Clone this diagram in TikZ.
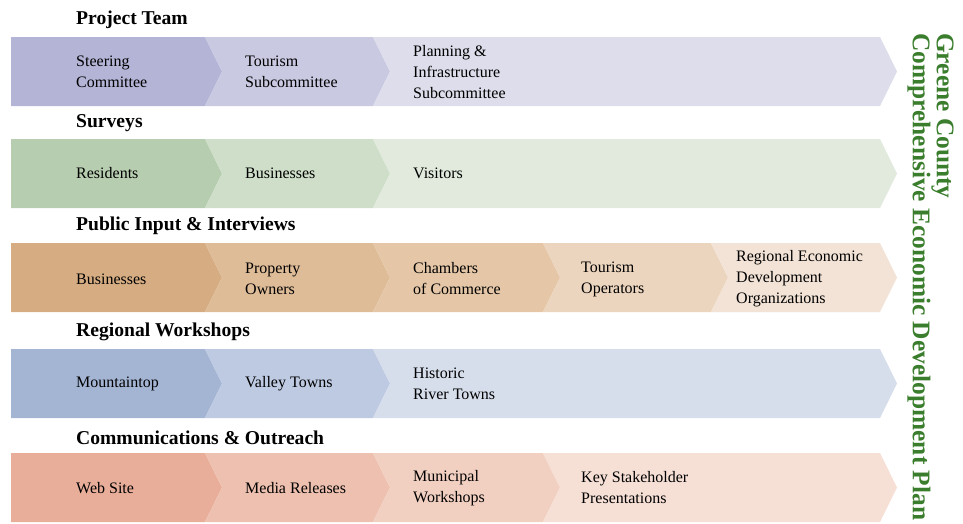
\documentclass[tikz,border=0pt]{standalone}
\usepackage{fontspec}
\setmainfont{Liberation Serif}
\usetikzlibrary{positioning}

\definecolor{teamA}{RGB}{180,180,214}
\definecolor{teamB}{RGB}{201,201,226}
\definecolor{teamC}{RGB}{221,221,235}
\definecolor{survA}{RGB}{183,205,176}
\definecolor{survB}{RGB}{206,222,200}
\definecolor{survC}{RGB}{225,234,221}
\definecolor{inpA}{RGB}{214,173,131}
\definecolor{inpB}{RGB}{223,188,152}
\definecolor{inpC}{RGB}{229,199,167}
\definecolor{inpD}{RGB}{236,213,190}
\definecolor{inpE}{RGB}{243,227,214}
\definecolor{regA}{RGB}{164,181,212}
\definecolor{regB}{RGB}{189,202,226}
\definecolor{regC}{RGB}{214,221,235}
\definecolor{comA}{RGB}{233,174,154}
\definecolor{comB}{RGB}{238,192,175}
\definecolor{comC}{RGB}{242,208,193}
\definecolor{comD}{RGB}{246,224,214}
\definecolor{titlegreen}{RGB}{58,125,44}

% first piece of a bar: flat left end
\newcommand{\firstpiece}[3]{\fill[#3] (11,#1) -- (#2,#1) -- ++(17,34.5) -- ++(-17,34.5) -- (11,#1+69) -- cycle;}
% further pieces: notched left end
\newcommand{\nextpiece}[4]{\fill[#4] (#1,#3) -- (#2,#3) -- ++(17,34.5) -- ++(-17,34.5) -- (#1,#3+69) -- ++(17,-34.5) -- cycle;}

\begin{document}
\begin{tikzpicture}
	[x=1pt, y=-1pt,
	 hd/.style={anchor=west, inner sep=0pt, font=\bfseries\fontsize{19.6}{21}\selectfont},
	 lbl/.style={anchor=west, inner sep=0pt, align=left, font=\fontsize{16}{21}\selectfont},
	 ttl/.style={anchor=north west, inner sep=0pt, align=left, rotate=-90,
	             text=titlegreen, font=\bfseries\fontsize{25.4}{23}\selectfont}]
	\useasboundingbox (0,0) rectangle (963,523);

	% Project Team
	\firstpiece{37}{205}{teamA}
	\nextpiece{205}{373}{37}{teamB}
	\nextpiece{373}{880}{37}{teamC}
	\node[hd] (team) at (76,20) {Project Team};
	\node[lbl] (team1) at (76,72) {Steering\\Committee};
	\node[lbl] (team2) at (245,72) {Tourism\\Subcommittee};
	\node[lbl] (team3) at (413,72) {Planning \&\\Infrastructure\\Subcommittee};

	% Surveys
	\firstpiece{139}{205}{survA}
	\nextpiece{205}{373}{139}{survB}
	\nextpiece{373}{880}{139}{survC}
	\node[hd] (surv) at (76,123) {Surveys};
	\node[lbl] (surv1) at (76,173) {Residents};
	\node[lbl] (surv2) at (245,173) {Businesses};
	\node[lbl] (surv3) at (413,173) {Visitors};

	% Public Input & Interviews
	\firstpiece{243}{205}{inpA}
	\nextpiece{205}{373}{243}{inpB}
	\nextpiece{373}{543}{243}{inpC}
	\nextpiece{543}{711}{243}{inpD}
	\nextpiece{711}{880}{243}{inpE}
	\node[hd] (inp) at (76,226) {Public Input \& Interviews};
	\node[lbl] (inp1) at (76,279) {Businesses};
	\node[lbl] (inp2) at (245,279) {Property\\Owners};
	\node[lbl] (inp3) at (413,279) {Chambers\\of Commerce};
	\node[lbl] (inp4) at (581,279) {Tourism\\Operators};
	\node[lbl] (inp5) at (736,279) {Regional Economic\\Development\\Organizations};

	% Regional Workshops
	\firstpiece{349}{205}{regA}
	\nextpiece{205}{373}{349}{regB}
	\nextpiece{373}{880}{349}{regC}
	\node[hd] (reg) at (76,332) {Regional Workshops};
	\node[lbl] (reg1) at (76,384) {Mountaintop};
	\node[lbl] (reg2) at (245,384) {Valley Towns};
	\node[lbl] (reg3) at (413,384) {Historic\\River Towns};

	% Communications & Outreach
	\firstpiece{453}{205}{comA}
	\nextpiece{205}{373}{453}{comB}
	\nextpiece{373}{543}{453}{comC}
	\nextpiece{543}{880}{453}{comD}
	\node[hd] (com) at (76,438) {Communications \& Outreach};
	\node[lbl] (com1) at (76,488) {Web Site};
	\node[lbl] (com2) at (245,488) {Media Releases};
	\node[lbl] (com3) at (413,488) {Municipal\\Workshops};
	\node[lbl] (com4) at (581,488) {Key Stakeholder\\Presentations};

	\node[ttl] (title) at (954,33) {Greene County\\Comprehensive Economic Development Plan};
\end{tikzpicture}
\end{document}
